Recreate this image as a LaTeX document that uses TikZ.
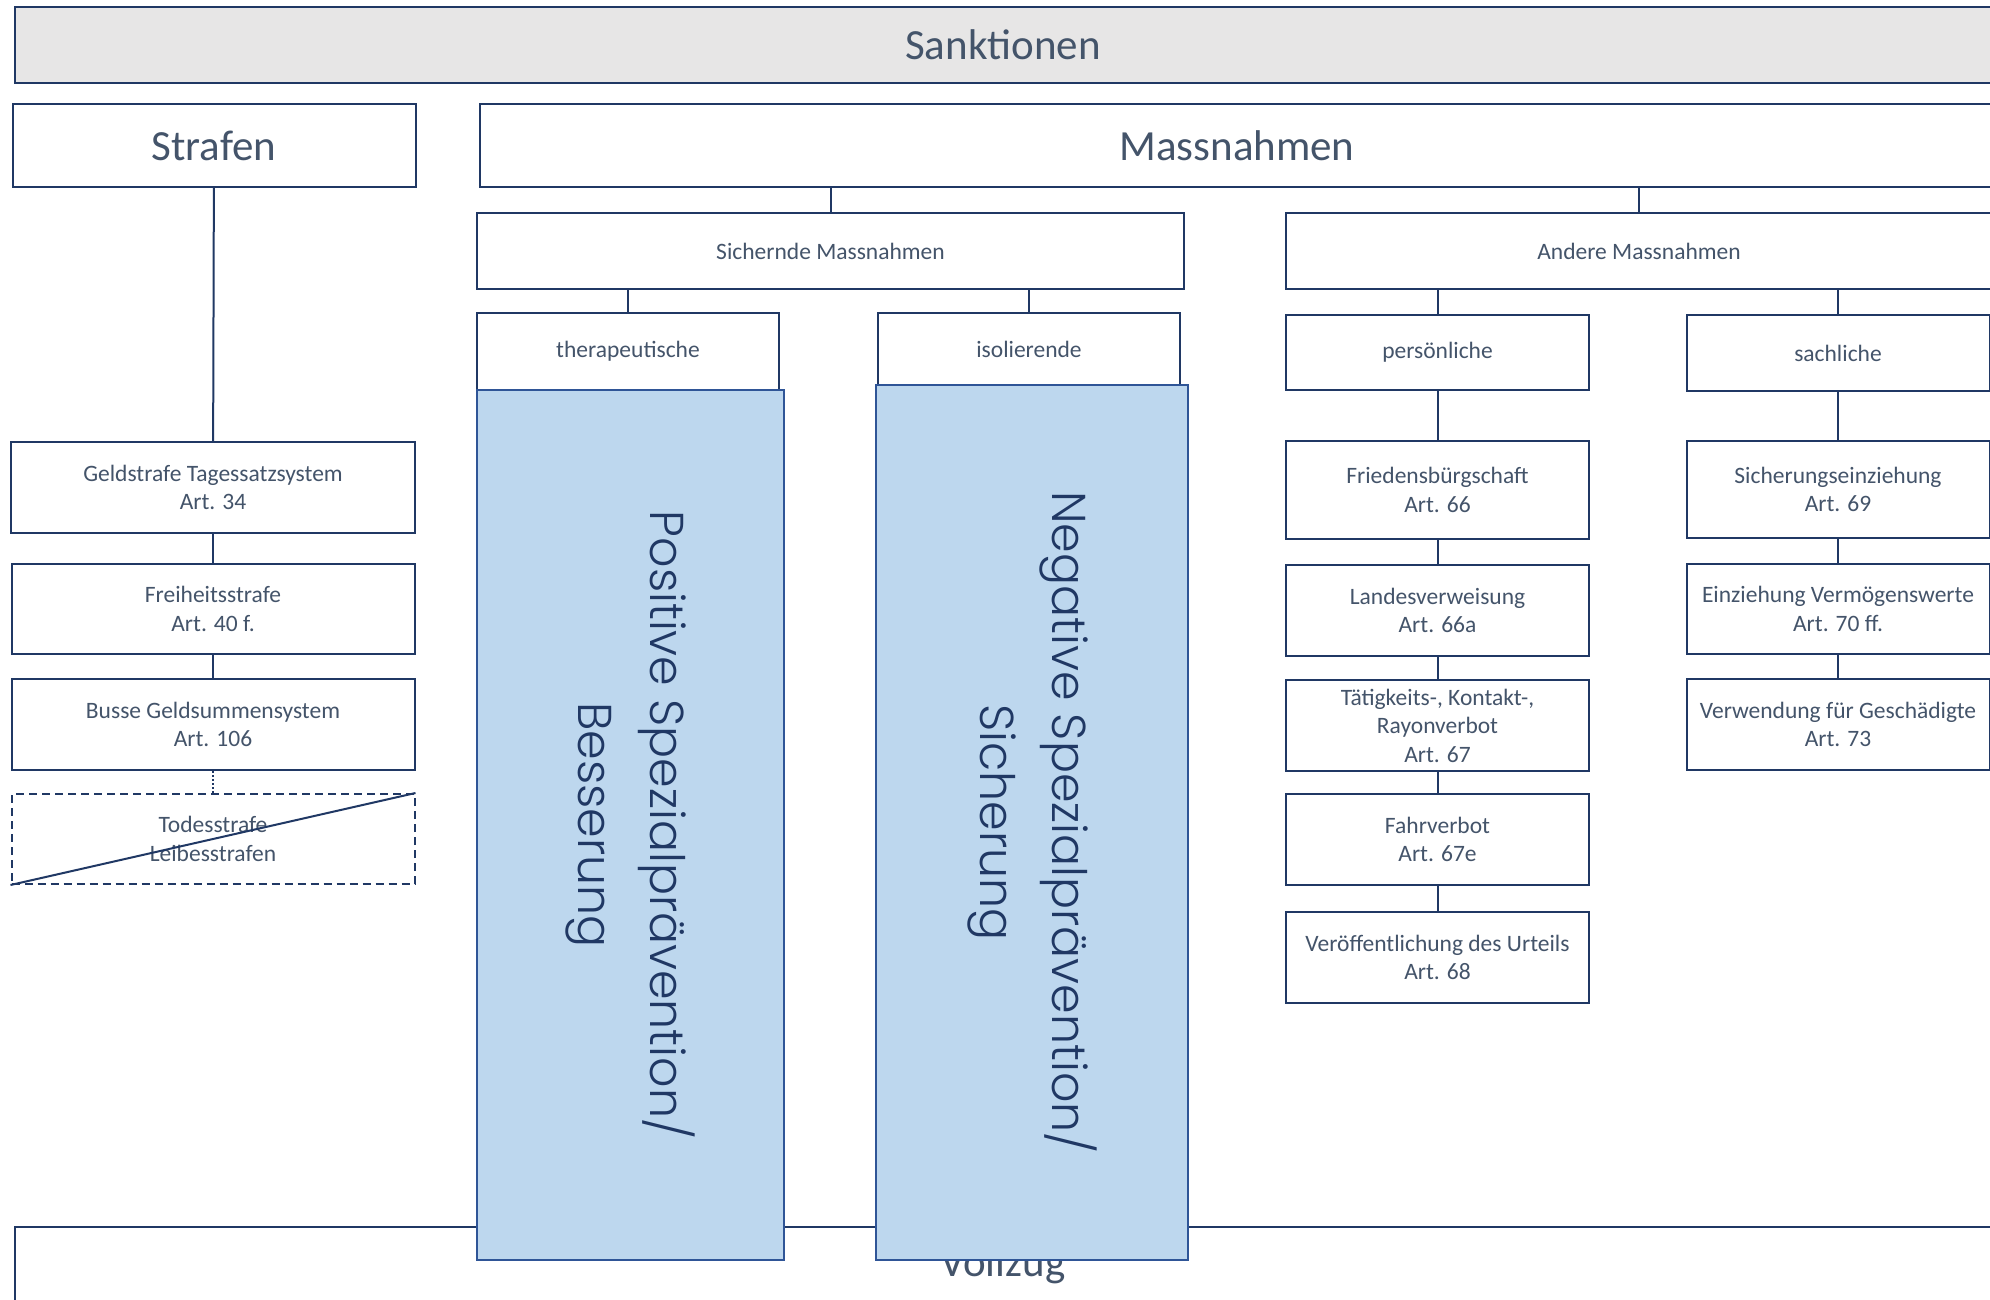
\documentclass[tikz,border=0pt]{standalone}
\usepackage{fontspec}
\setmainfont{Carlito}
\newfontfamily\rotfont{Poppins Light}
\usepackage{tikz}

\definecolor{navy}{HTML}{203864}
\definecolor{txtgray}{HTML}{44546A}
\definecolor{paleblue}{HTML}{BDD7EE}
\definecolor{bluerim}{HTML}{2F5597}
\definecolor{headgray}{HTML}{E7E6E6}

\begin{document}
\begin{tikzpicture}[x=1pt,y=-1pt]

        \useasboundingbox (0,0) rectangle (1990,1300);
        \clip (0,0) rectangle (1990,1300);

        \begin{scope}[every node/.style={draw=navy, line width=2pt, text=txtgray, inner sep=0pt, font=\fontsize{43}{52}\selectfont}]
          \node[fill=headgray, minimum width=1976pt, minimum height=76pt] (sank) at (1003,45) {Sanktionen};
          \node[minimum width=403pt, minimum height=83pt] (straf) at (214,145.5) {Strafen};
          \node[minimum width=1514pt, minimum height=83pt] (mass) at (1237,145.5) {Massnahmen};
          \node[minimum width=1976pt, minimum height=76pt] (vollz) at (1003,1265) {Vollzug};
        \end{scope}

        \begin{scope}[every node/.style={draw=navy, line width=2pt, text=txtgray, fill=white, inner sep=0pt, align=center, font=\fontsize{23.5}{28.5}\selectfont}]
          \node[minimum width=707pt, minimum height=76pt] (sich)   at (830.5,251)  {Sichernde Massnahmen};
          \node[minimum width=706pt, minimum height=76pt] (andere) at (1639,251)   {Andere Massnahmen};
          \node[minimum width=302pt, minimum height=77pt] (thera)  at (628,351.5)  {therapeutische};
          \node[minimum width=302pt, minimum height=72pt] (iso)    at (1029,349)   {isolierende};
          \node[minimum width=303pt, minimum height=75pt] (pers)   at (1437.5,352.5) {persönliche};
          \node[minimum width=303pt, minimum height=76pt] (sach)   at (1838,353)   {sachliche};

          \node[minimum width=404pt, minimum height=91pt] (geld)  at (213,487.5) {Geldstrafe Tagessatzsystem\\Art. 34};
          \node[minimum width=403pt, minimum height=90pt] (frei)  at (213,609)   {Freiheitsstrafe\\Art. 40 f.};
          \node[minimum width=403pt, minimum height=91pt] (busse) at (213,724.5) {Busse Geldsummensystem\\Art. 106};
          \node[dash pattern=on 8pt off 5pt, minimum width=403pt, minimum height=90pt] (tod) at (213,839) {Todesstrafe\\Leibesstrafen};

          \node[minimum width=303pt, minimum height=98pt] (fried)  at (1437.5,490)   {Friedensbürgschaft\\Art. 66};
          \node[minimum width=303pt, minimum height=91pt] (landes) at (1437.5,610.5) {Landesverweisung\\Art. 66a};
          \node[minimum width=303pt, minimum height=91pt] (taet)   at (1437.5,725.5) {Tätigkeits-, Kontakt-,\\Rayonverbot\\Art. 67};
          \node[minimum width=303pt, minimum height=91pt] (fahr)   at (1437.5,839.5) {Fahrverbot\\Art. 67e};
          \node[minimum width=303pt, minimum height=91pt] (veroe)  at (1437.5,957.5) {Veröffentlichung des Urteils\\Art. 68};

          \node[minimum width=303pt, minimum height=97pt] (sicher) at (1838,489.5) {Sicherungseinziehung\\Art. 69};
          \node[minimum width=303pt, minimum height=90pt] (einz)   at (1838,609)   {Einziehung Vermögenswerte\\Art. 70 ff.};
          \node[minimum width=303pt, minimum height=91pt] (verw)   at (1838,724.5) {Verwendung für Geschädigte\\Art. 73};
        \end{scope}

        \begin{scope}[every node/.style={draw=bluerim, line width=2.5pt, fill=paleblue, text=navy, rotate=-90, inner sep=0pt, align=center, font=\rotfont\fontsize{47.5}{72}\selectfont}]
          \node[minimum width=870pt, minimum height=307pt] (pos) at (630.5,825)  {Positive Spezialprävention/\\Besserung};
          \node[minimum width=875pt, minimum height=312pt] (neg) at (1032,822.5) {Negative Spezialprävention/\\Sicherung};
        \end{scope}

        \begin{scope}[every edge/.style={draw=navy, line width=2pt}]
          \path (straf)  edge (geld);
          \path (geld)   edge (frei);
          \path (frei)   edge (busse);
          \path (busse)  edge[dotted] (tod);
          \path (sich.north)   edge (sich.north |- mass.south);
          \path (andere.north) edge (andere.north |- mass.south);
          \path (thera.north)  edge (thera.north |- sich.south);
          \path (iso.north)    edge (iso.north |- sich.south);
          \path (pers.north)   edge (pers.north |- andere.south);
          \path (sach.north)   edge (sach.north |- andere.south);
          \path (pers)   edge (fried);
          \path (fried)  edge (landes);
          \path (landes) edge (taet);
          \path (taet)   edge (fahr);
          \path (fahr)   edge (veroe);
          \path (sach)   edge (sicher);
          \path (sicher) edge (einz);
          \path (einz)   edge (verw);
        \end{scope}

        \draw[navy, line width=2pt] (tod.south west) -- (tod.north east);

      \end{tikzpicture}
\end{document}
